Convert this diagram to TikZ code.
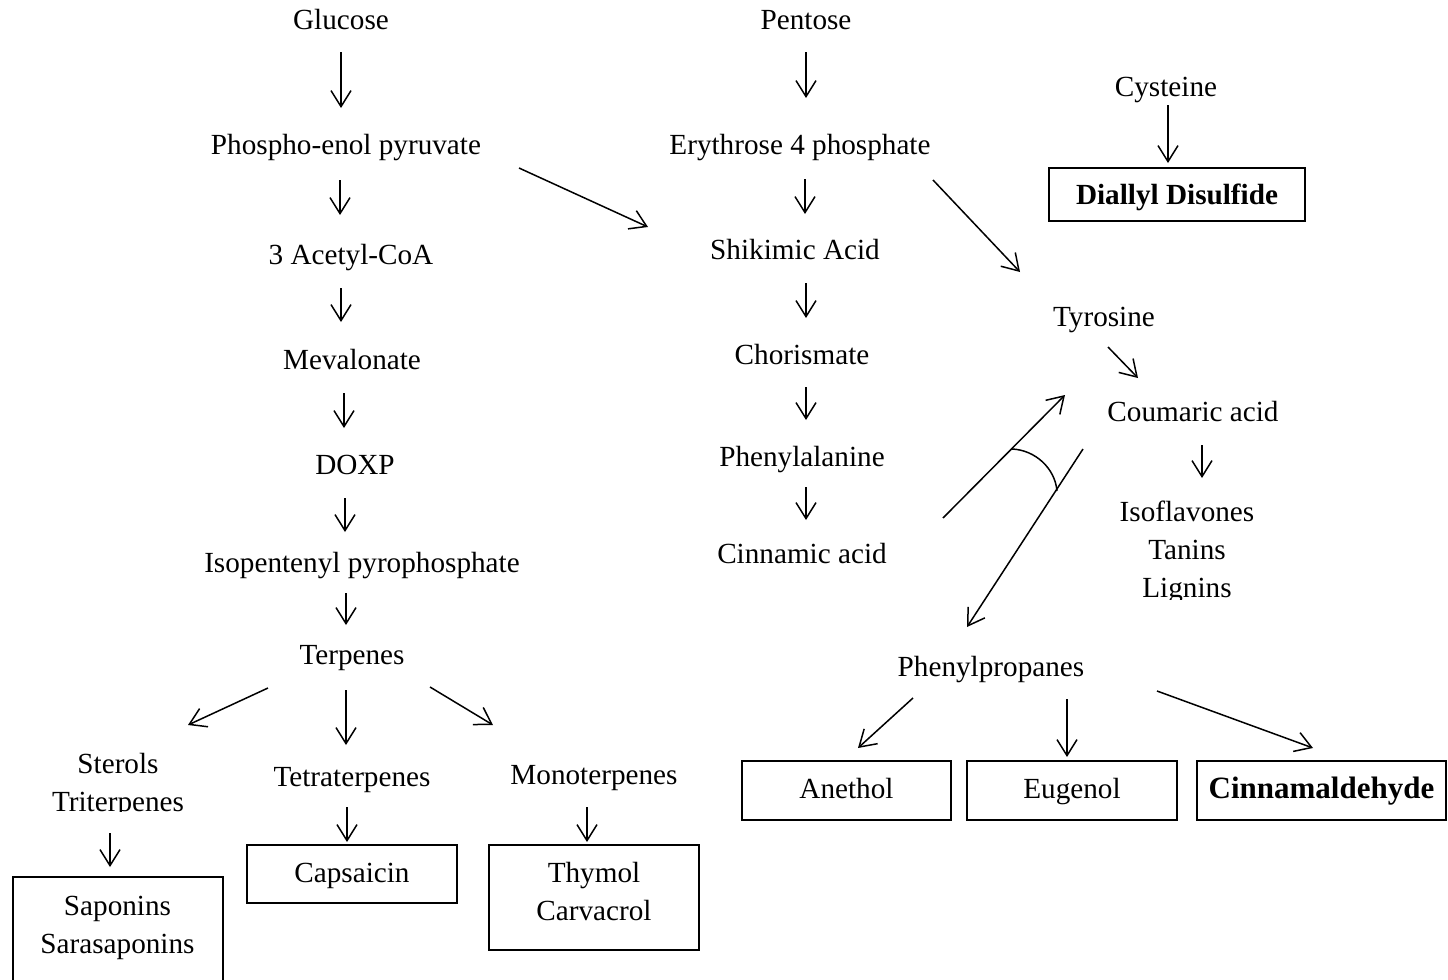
\documentclass[tikz,border=0pt]{standalone}
\usepackage{fontspec}
\setmainfont{Liberation Serif}
\usetikzlibrary{arrows.meta}
\begin{document}
\begin{tikzpicture}[x=0.5pt,y=-0.5pt,
  lbl/.style={font=\fontsize{14.6}{19}\selectfont, inner sep=0pt, text height=1.5ex, text depth=0.25ex},
  ml/.style={font=\fontsize{14.6}{19}\selectfont, inner sep=0pt, align=center},
  frame/.style={draw, line width=1pt, inner sep=0pt},
  sbox/.style={frame, font=\fontsize{14.6}{19}\selectfont, text height=2ex, text depth=0.25ex},
  arr/.style={-{Straight Barb[length=8pt,width=10pt]}, line width=0.75pt}]
\useasboundingbox (0,0) rectangle (1448,980);
\clip (0,0) rectangle (1448,980);

% ---- left column ----
\node[lbl] (glucose) at (341,24) {Glucose};
\node[lbl] (pep) at (346,149) {Phospho-enol pyruvate};
\node[lbl] (acetyl) at (351,259) {3 Acetyl-CoA};
\node[lbl] (meva) at (352,364) {Mevalonate};
\node[lbl] (doxp) at (355,469) {DOXP};
\node[lbl] (ipp) at (362,567) {Isopentenyl pyrophosphate};
\node[lbl] (terp) at (352,659) {Terpenes};
\begin{scope}
  \clip (0,730) rectangle (250,811);
  \node[ml] (sterols) at (118,785) {Sterols\\Triterpenes};
\end{scope}
\node[lbl] (tetra) at (352,781) {Tetraterpenes};
\node[lbl] (mono) at (594,779) {Monoterpenes};
\node[frame, minimum width=105pt, minimum height=65pt] (sapbox) at (117.5,942) {};
\node[ml] (sap) at (117.5,928) {Saponins\\Sarasaponins};
\node[sbox, minimum width=105pt, minimum height=29pt] (caps) at (352,874) {Capsaicin};
\node[frame, minimum width=105pt, minimum height=52.5pt] (thymolbox) at (594,897.5) {};
\node[ml] (thymol) at (594,891.5) {Thymol\\Carvacrol};

% ---- middle column ----
\node[lbl] (pentose) at (806,24) {Pentose};
\node[lbl] (ery) at (800,149) {Erythrose 4 phosphate};
\node[lbl] (shik) at (795,254) {Shikimic Acid};
\node[lbl] (chor) at (802,359) {Chorismate};
\node[lbl] (phe) at (802,461) {Phenylalanine};
\node[lbl] (cin) at (802,558) {Cinnamic acid};

% ---- right part ----
\node[lbl] (cys) at (1166,91) {Cysteine};
\node[sbox, minimum width=128pt, minimum height=26.5pt, text height=2.5ex, font=\fontsize{14.6}{19}\selectfont\bfseries] (dds) at (1177,194.5) {Diallyl Disulfide};
\node[lbl] (tyr) at (1104,321) {Tyrosine};
\node[lbl] (coum) at (1193,416) {Coumaric acid};
\begin{scope}
  \clip (1080,480) rectangle (1300,599);
  \node[ml] (iso) at (1187,552) {Isoflavones\\Tanins\\Lignins};
\end{scope}
\node[lbl] (pp) at (991,671) {Phenylpropanes};
\node[sbox, minimum width=104.5pt, minimum height=29.5pt] (anethol) at (846.5,790.5) {Anethol};
\node[sbox, minimum width=105pt, minimum height=29.5pt] (eugenol) at (1072,790.5) {Eugenol};
\node[sbox, minimum width=124.5pt, minimum height=29.5pt, font=\fontsize{15.5}{19}\selectfont\bfseries] (cinn) at (1321.5,790.5) {Cinnamaldehyde};

% ---- connector end points ----
\coordinate (a1s) at (341,52);   \coordinate (a1e) at (341,108);
\coordinate (a2s) at (340,180);  \coordinate (a2e) at (340,215);
\coordinate (a3s) at (341,288);  \coordinate (a3e) at (341,322);
\coordinate (a4s) at (344,393);  \coordinate (a4e) at (344,428);
\coordinate (a5s) at (345,498);  \coordinate (a5e) at (345,532);
\coordinate (a6s) at (346,593);  \coordinate (a6e) at (346,625);
\coordinate (a7s) at (346,690);  \coordinate (a7e) at (346,745);
\coordinate (a8s) at (268,688);  \coordinate (a8e) at (188,725);
\coordinate (a9s) at (430,687);  \coordinate (a9e) at (493,725);
\coordinate (a10s) at (110,833); \coordinate (a10e) at (110,867);
\coordinate (a11s) at (347,807); \coordinate (a11e) at (347,842);
\coordinate (a12s) at (587,807); \coordinate (a12e) at (587,842);
\coordinate (b1s) at (806,52);   \coordinate (b1e) at (806,98);
\coordinate (b2s) at (805,179);  \coordinate (b2e) at (805,214);
\coordinate (b3s) at (806,283);  \coordinate (b3e) at (806,318);
\coordinate (b4s) at (806,387);  \coordinate (b4e) at (806,420);
\coordinate (b5s) at (806,487);  \coordinate (b5e) at (806,520);
\coordinate (c1s) at (519,168);  \coordinate (c1e) at (648,227);
\coordinate (c2s) at (933,180);  \coordinate (c2e) at (1020,272);
\coordinate (c3s) at (1168,105); \coordinate (c3e) at (1168,163);
\coordinate (c4s) at (1108,347); \coordinate (c4e) at (1138,378);
\coordinate (c5s) at (1202,445); \coordinate (c5e) at (1202,478);
\coordinate (c6s) at (943,518);  \coordinate (c6e) at (1065,395);
\coordinate (c7s) at (1083,449); \coordinate (c7e) at (967,627);
\coordinate (arcs) at (1012,449); \coordinate (arce) at (1057,491);
\coordinate (d1s) at (913,698);  \coordinate (d1e) at (858,748);
\coordinate (d2s) at (1067,699); \coordinate (d2e) at (1067,757);
\coordinate (d3s) at (1157,691); \coordinate (d3e) at (1313,748);

% ---- connectors ----
\foreach \p in {a1,a2,a3,a4,a5,a6,a7,a8,a9,a10,a11,a12,b1,b2,b3,b4,b5,c1,c2,c3,c4,c5,c6,c7,d1,d2,d3}
  \draw[arr] (\p s) -- (\p e);
\draw[line width=0.75pt] (arcs) .. controls (1035,450) and (1055,468) .. (arce);
\end{tikzpicture}
\end{document}
